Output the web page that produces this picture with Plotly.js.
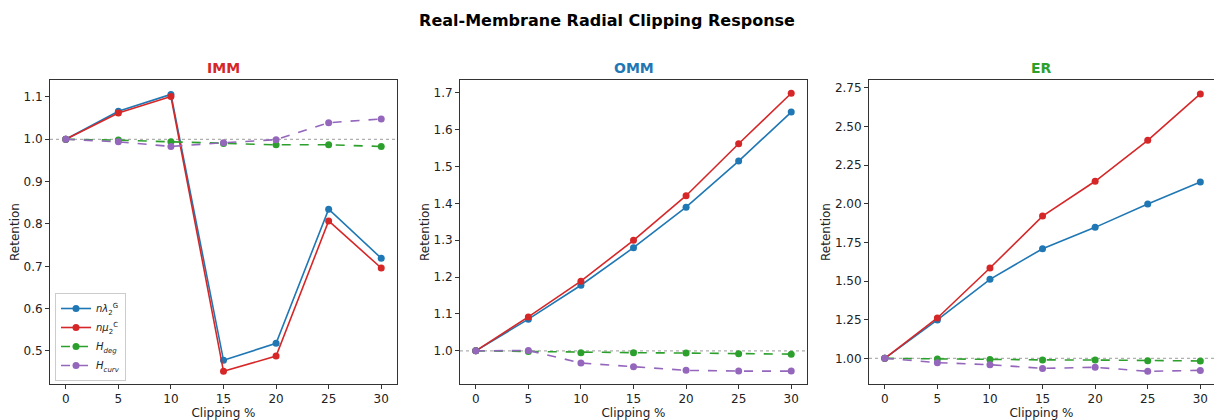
<!DOCTYPE html>
<html>
<head>
<meta charset="utf-8">
<script src="https://cdn.plot.ly/plotly-3.0.1.min.js"></script>
<style>html,body{margin:0;padding:0;background:#fff;}#chart{width:1214px;height:420px;}</style>
</head>
<body>
<div id="chart"></div>
<script>
const clipping = [0, 5, 10, 15, 20, 25, 30];
const panels = ["IMM", "OMM", "ER"];
const panelColors = ["#d62728", "#1f77b4", "#2ca02c"];
const seriesNames = ["<i>nλ</i><sub>2</sub><sup>G</sup>", "<i>nμ</i><sub>2</sub><sup>C</sup>", "<i>H</i><sub><i>deg</i></sub>", "<i>H</i><sub><i>curv</i></sub>"];
const seriesColors = ["#1f77b4", "#d62728", "#2ca02c", "#9467bd"];
const seriesDash = ["solid", "solid", "dash", "dash"];

// IMM
const immLambda = [1.000, 1.066, 1.106, 0.478, 0.518, 0.835, 0.719];
const immMu     = [1.000, 1.062, 1.101, 0.452, 0.488, 0.807, 0.696];
const immHdeg   = [1.000, 0.998, 0.994, 0.990, 0.987, 0.987, 0.983];
const immHcurv  = [1.000, 0.994, 0.983, 0.992, 0.999, 1.039, 1.048];
// OMM
const ommLambda = [1.000, 1.086, 1.178, 1.280, 1.390, 1.515, 1.648];
const ommMu     = [1.000, 1.092, 1.189, 1.300, 1.421, 1.562, 1.699];
const ommHdeg   = [1.000, 0.998, 0.995, 0.995, 0.994, 0.992, 0.991];
const ommHcurv  = [1.000, 1.001, 0.967, 0.957, 0.947, 0.945, 0.945];
// ER
const erLambda = [1.000, 1.248, 1.511, 1.709, 1.847, 1.998, 2.140];
const erMu     = [1.000, 1.261, 1.584, 1.920, 2.145, 2.410, 2.710];
const erHdeg   = [1.000, 0.996, 0.993, 0.990, 0.989, 0.985, 0.983];
const erHcurv  = [1.000, 0.972, 0.959, 0.935, 0.942, 0.916, 0.922];

const panelData = [
  [immLambda, immMu, immHdeg, immHcurv],
  [ommLambda, ommMu, ommHdeg, ommHcurv],
  [erLambda, erMu, erHdeg, erHcurv]
];
const yRanges = [[0.422, 1.140], [0.910, 1.735], [0.834, 2.800]];
const yTicks = [
  [0.5, 0.6, 0.7, 0.8, 0.9, 1.0, 1.1],
  [1.0, 1.1, 1.2, 1.3, 1.4, 1.5, 1.6, 1.7],
  [1.0, 1.25, 1.5, 1.75, 2.0, 2.25, 2.5, 2.75]
];
const yTickText = [
  ["0.5", "0.6", "0.7", "0.8", "0.9", "1.0", "1.1"],
  ["1.0", "1.1", "1.2", "1.3", "1.4", "1.5", "1.6", "1.7"],
  ["1.00", "1.25", "1.50", "1.75", "2.00", "2.25", "2.50", "2.75"]
];
const xDomains = [[50/1214, 397/1214], [460/1214, 807/1214], [869/1214, 1]];
const xRanges = [[-1.5, 31.5], [-1.5, 31.5], [-1.5, 31.3]];

const traces = [];
panelData.forEach((series, p) => {
  const ax = p === 0 ? "" : String(p + 1);
  series.forEach((vals, s) => {
    traces.push({
      x: clipping, y: vals, type: "scatter", mode: "lines+markers",
      name: seriesNames[s], legendgroup: "s" + s, showlegend: p === 0,
      xaxis: "x" + ax, yaxis: "y" + ax,
      line: {color: seriesColors[s], width: 1.6, dash: seriesDash[s]},
      marker: {color: seriesColors[s], size: 7}
    });
  });
});

const layout = {
  width: 1214, height: 420,
  margin: {l: 0, r: 0, t: 0, b: 0},
  paper_bgcolor: "#fff", plot_bgcolor: "#fff",
  font: {family: "DejaVu Sans", size: 12, color: "#222"},
  showlegend: true,
  legend: {x: 55/1214, y: (420-381)/420, xanchor: "left", yanchor: "bottom",
           bgcolor: "rgba(255,255,255,0.9)", bordercolor: "#cccccc", borderwidth: 1,
           font: {size: 10, family: "DejaVu Sans"}, tracegroupgap: 0, itemwidth: 30},
  title: {text: "<b>Real-Membrane Radial Clipping Response</b>", x: 0.5, xanchor: "center",
          y: 1 - 20/420, yanchor: "middle", font: {size: 16, family: "DejaVu Sans", color: "#000"}},
  shapes: [], annotations: []
};

for (let p = 0; p < 3; p++) {
  const ax = p === 0 ? "" : String(p + 1);
  layout["xaxis" + ax] = {
    domain: xDomains[p], range: xRanges[p], anchor: "y" + ax,
    tickvals: clipping, ticktext: clipping.map(String),
    ticks: "outside", ticklen: 4, tickcolor: "#333", showgrid: false, zeroline: false,
    showline: true, mirror: true, linecolor: "#333", linewidth: 1,
    tickfont: {size: 12, color: "#222"},
    title: {text: "Clipping %", font: {size: 12, color: "#222"}, standoff: 6}
  };
  layout["yaxis" + ax] = {
    domain: [1 - 384/420, 1 - 80/420], range: yRanges[p], anchor: "x" + ax,
    tickvals: yTicks[p], ticktext: yTickText[p],
    ticks: "outside", ticklen: 4, tickcolor: "#333", showgrid: false, zeroline: false,
    showline: true, mirror: true, linecolor: "#333", linewidth: 1,
    tickfont: {size: 12, color: "#222"},
    title: {text: "Retention", font: {size: 12, color: "#222"}, standoff: 1}
  };
  layout.shapes.push({
    type: "line", xref: "x" + ax + " domain", yref: "y" + ax,
    x0: 0, x1: 1, y0: 1, y1: 1,
    line: {color: "#b0b0b0", width: 1.2, dash: "dot"}, layer: "below"
  });
  layout.annotations.push({
    text: "<b>" + panels[p] + "</b>", xref: "paper", yref: "paper",
    x: (xDomains[p][0] + xDomains[p][1]) / 2, y: 1 - 68/420,
    xanchor: "center", yanchor: "middle", showarrow: false,
    font: {size: 14, color: panelColors[p], family: "DejaVu Sans"}
  });
}

Plotly.newPlot("chart", traces, layout, {displayModeBar: false, staticPlot: true});
</script>
</body>
</html>
